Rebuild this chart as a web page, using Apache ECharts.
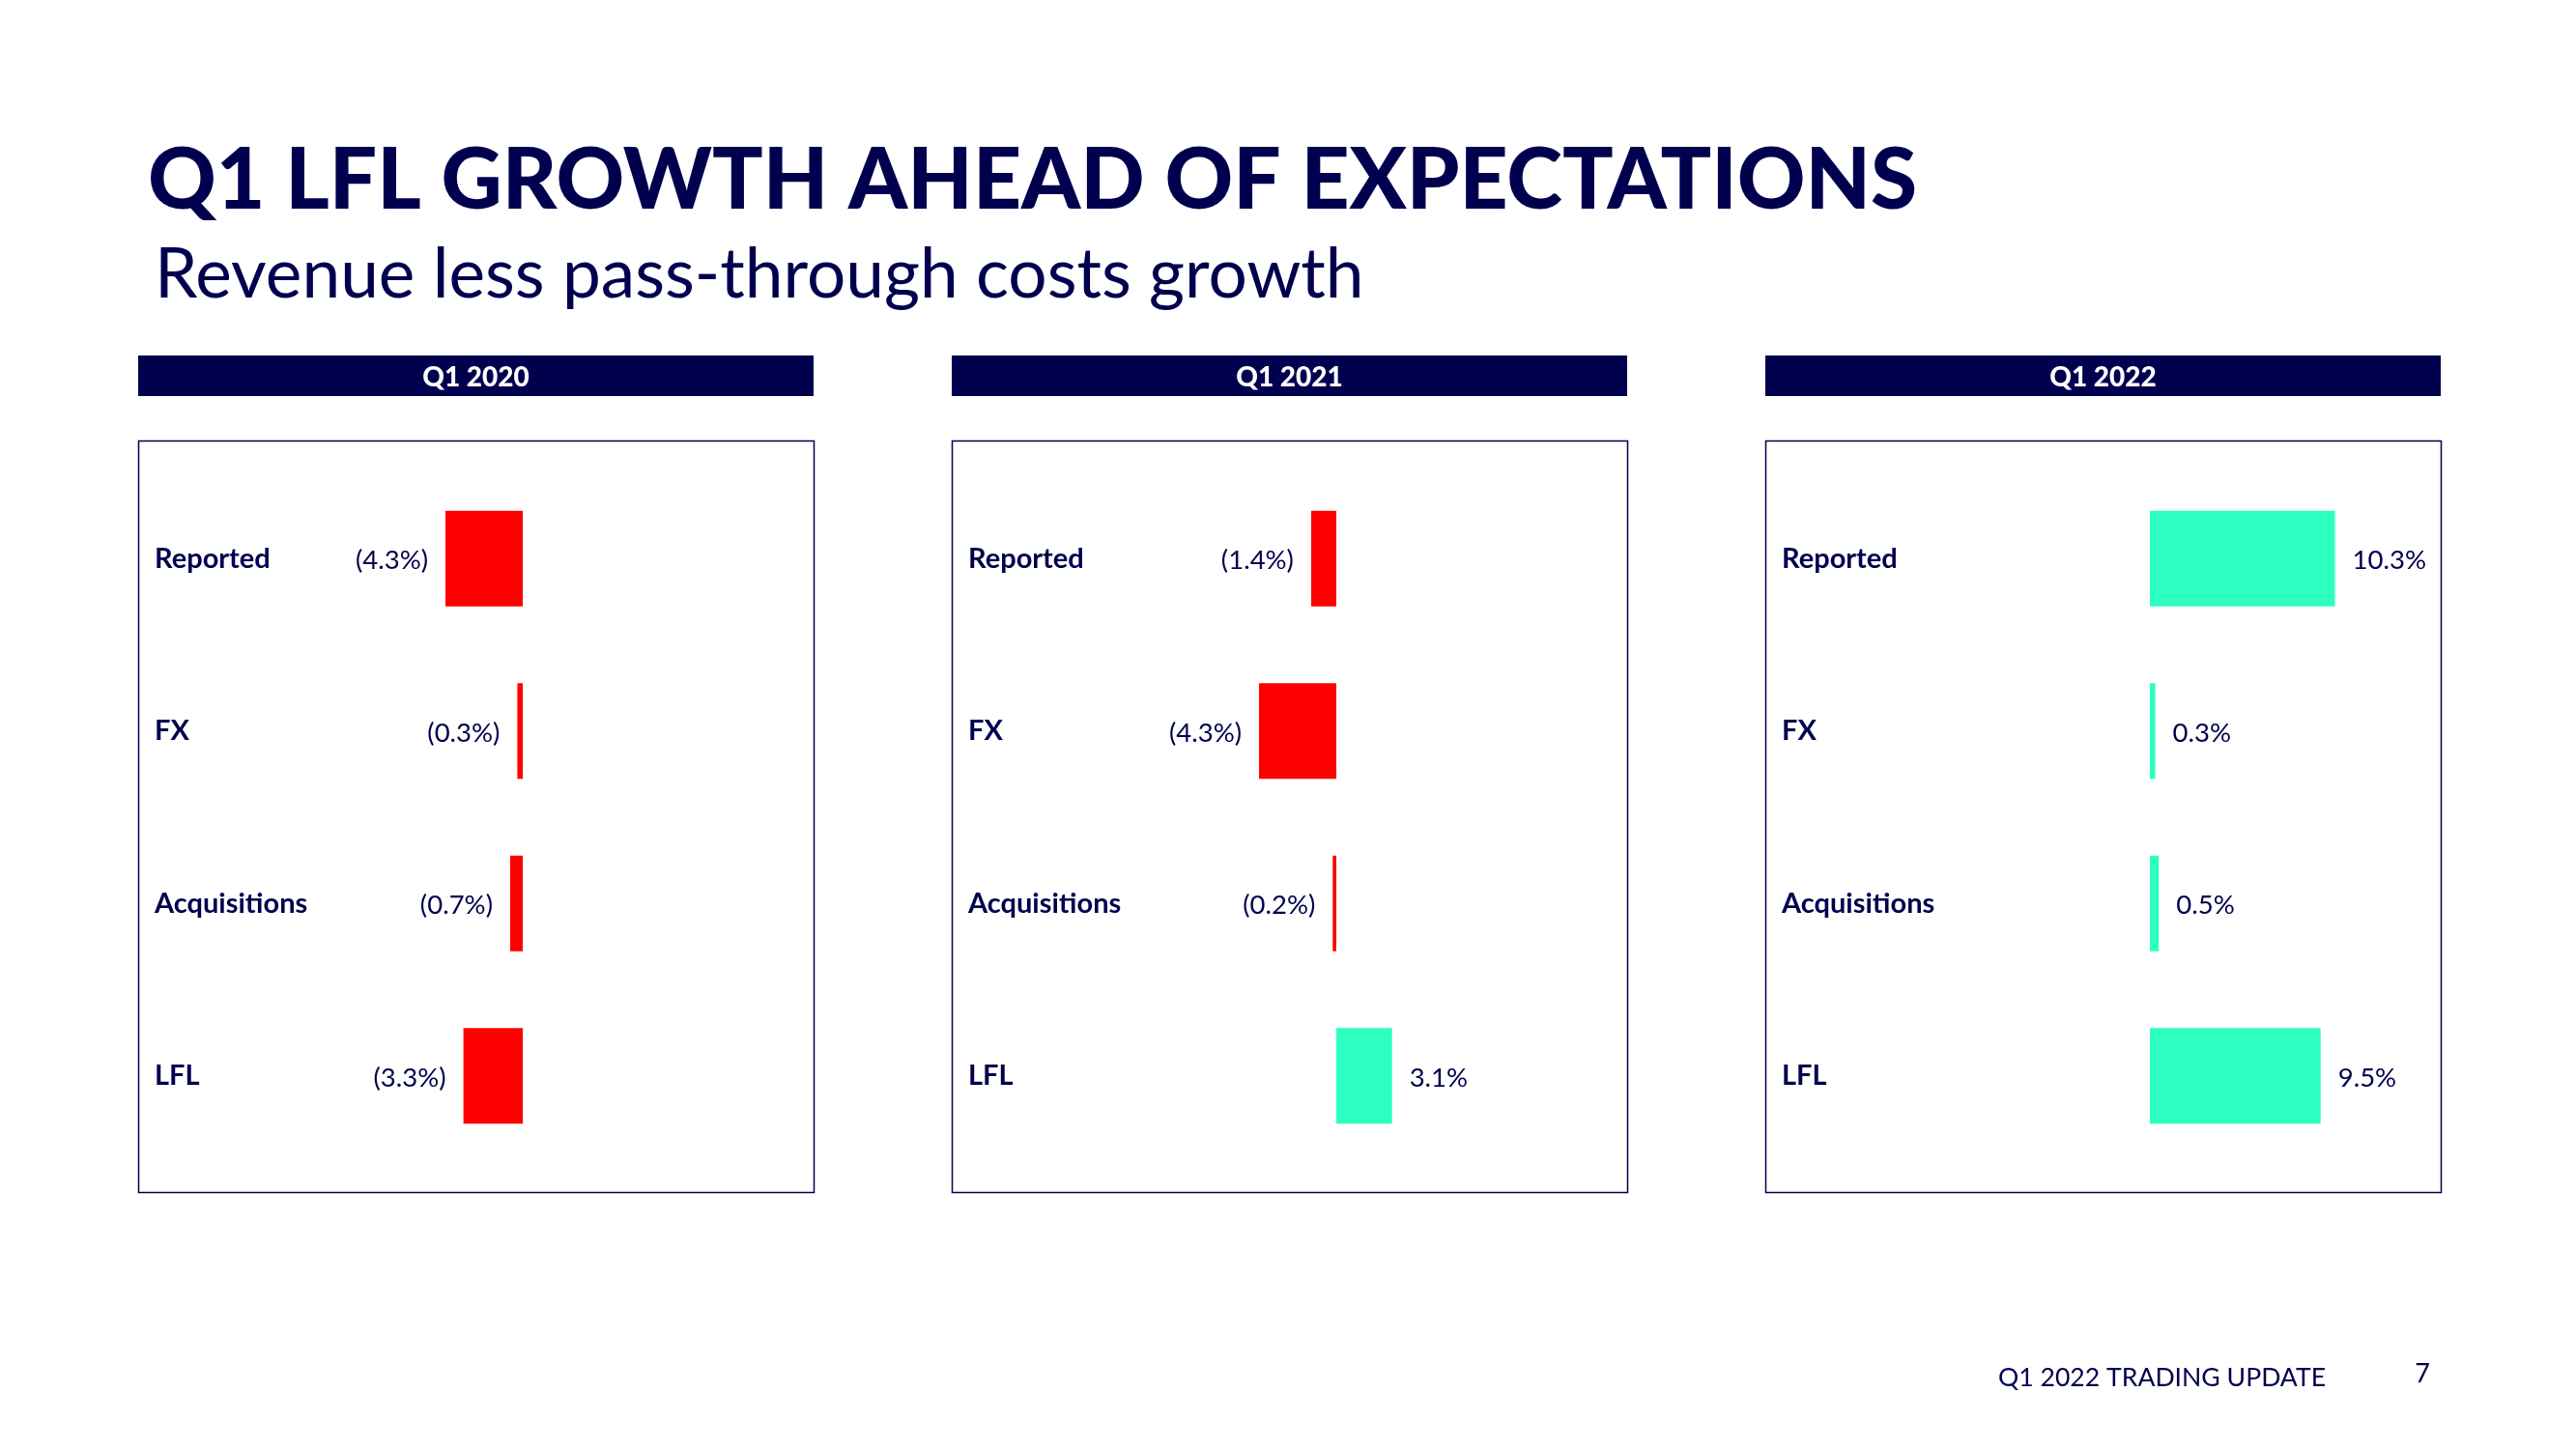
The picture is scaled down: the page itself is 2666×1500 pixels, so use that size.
<!DOCTYPE html>
<html>
<head>
<meta charset="utf-8">
<script src="https://cdn.jsdelivr.net/npm/echarts@6/dist/echarts.min.js"></script>
<style>
html,body{margin:0;padding:0;background:#fff;}
#c{width:2666px;height:1500px;}
</style>
</head>
<body>
<div id="c"></div>
<script>
// ---- data ----
var categories = ['Reported', 'FX', 'Acquisitions', 'LFL'];
var panelTitles = ['Q1 2020', 'Q1 2021', 'Q1 2022'];
var q1_2020 = [-4.3, -0.3, -0.7, -3.3];
var q1_2021 = [-1.4, -4.3, -0.2, 3.1];
var q1_2022 = [10.3, 0.3, 0.5, 9.5];
var titleText = 'Q1 LFL GROWTH AHEAD OF EXPECTATIONS';
var subtitleText = 'Revenue less pass-through costs growth';
var footerText = 'Q1 2022 TRADING UPDATE';
var pageNumber = '7';

var NAVY = '#00004E';
var RED = '#FF0000';
var TEAL = '#2CFFC0';
var panels = [q1_2020, q1_2021, q1_2022];

function fitSize(text, weight, family, targetWidth) {
  var cv = document.createElement('canvas').getContext('2d');
  cv.font = weight + ' 100px ' + family;
  var w = cv.measureText(text).width;
  return 100 * targetWidth / w;
}

var chart = echarts.init(document.getElementById('c'), null, {renderer: 'canvas'});

var grids = [], xAxes = [], yAxes = [], series = [], graphics = [];
var BOX_W = 699;
panels.forEach(function (vals, i) {
  var boxLeft = 143 + 842 * i;
  grids.push({left: boxLeft + 26, width: 651, top: 489, height: 714, containLabel: false});
  xAxes.push({type: 'value', gridIndex: i, min: -20, max: 15, show: false});
  yAxes.push({
    type: 'category', gridIndex: i, data: categories, inverse: true,
    axisLine: {show: false, onZero: false}, axisTick: {show: false}, splitLine: {show: false},
    axisLabel: {align: 'left', margin: 9, color: NAVY, fontSize: 29, fontWeight: 'bold', fontFamily: 'Lato',
      padding: [10, 0, 0, 0]}
  });
  series.push({
    type: 'bar', xAxisIndex: i, yAxisIndex: i, barWidth: 99,
    data: vals.map(function (v) {
      return {
        value: v,
        itemStyle: {color: v < 0 ? RED : TEAL},
        label: {position: v < 0 ? 'left' : 'right'}
      };
    }),
    label: {
      show: true, distance: 18, color: NAVY, fontSize: 27.5, fontFamily: 'Lato', offset: [0, 2],
      formatter: function (p) {
        var v = p.value;
        return v < 0 ? '(' + Math.abs(v).toFixed(1) + '%)' : v.toFixed(1) + '%';
      }
    },
    silent: true
  });
  // header bar
  graphics.push({type: 'rect', shape: {x: boxLeft, y: 368, width: BOX_W, height: 42}, style: {fill: NAVY}, silent: true});
  graphics.push({type: 'text', style: {x: boxLeft + BOX_W / 2, y: 391, text: panelTitles[i], fill: '#fff',
    font: '900 28px Lato', textAlign: 'center', textVerticalAlign: 'middle'}, silent: true});
  // box
  graphics.push({type: 'rect', shape: {x: boxLeft + 0.5, y: 456.5, width: BOX_W, height: 778}, style: {fill: 'none', stroke: NAVY, lineWidth: 1.5}, silent: true, z: -1});
});

var titleSize = fitSize(titleText, '900', 'Lato', 1831);
var subSize = fitSize(subtitleText, '400', 'Lato', 1251);
var footSize = fitSize(footerText, '400', 'Lato', 339);

graphics.push({type: 'text', style: {x: 153, y: 188, text: titleText, fill: NAVY,
  font: '900 ' + titleSize.toFixed(1) + 'px Lato', textAlign: 'left', textVerticalAlign: 'middle'}, silent: true});
graphics.push({type: 'text', style: {x: 160, y: 285, text: subtitleText, fill: NAVY,
  font: '400 ' + subSize.toFixed(1) + 'px Lato', textAlign: 'left', textVerticalAlign: 'middle'}, silent: true});
graphics.push({type: 'text', style: {x: 2068, y: 1426, text: footerText, fill: NAVY,
  font: '400 ' + footSize.toFixed(1) + 'px Lato', textAlign: 'left', textVerticalAlign: 'middle'}, silent: true});
graphics.push({type: 'text', style: {x: 2507, y: 1422, text: pageNumber, fill: NAVY,
  font: '400 27px Lato', textAlign: 'center', textVerticalAlign: 'middle'}, silent: true});

chart.setOption({
  animation: false,
  backgroundColor: '#fff',
  grid: grids,
  xAxis: xAxes,
  yAxis: yAxes,
  series: series,
  graphic: graphics
});
</script>
</body>
</html>
